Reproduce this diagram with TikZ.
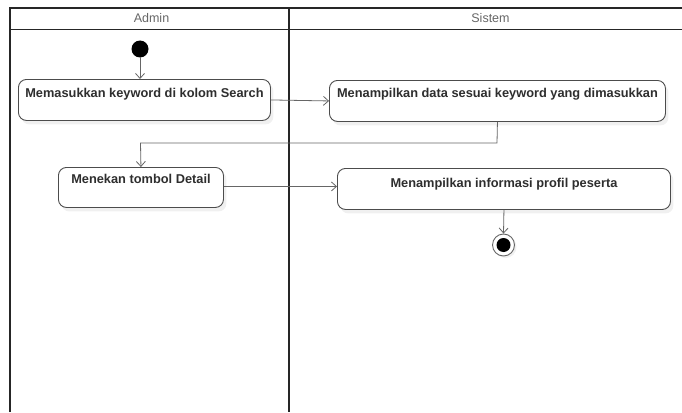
\documentclass[tikz,border=0pt]{standalone}
\usepackage{fontspec}
\setmainfont{Liberation Sans}
\usetikzlibrary{arrows.meta,shadows}
\begin{document}
\begin{tikzpicture}[x=1pt,y=-1pt,
  frame/.style={draw=black!85, line width=1.6pt},
  lanehead/.style={font=\fontsize{12.5}{14}\selectfont, text=black!60},
  act/.style={draw=black!70, line width=0.9pt, rounded corners=8pt, fill=white,
    anchor=north west, inner sep=0pt, align=center,
    font=\bfseries\fontsize{12.8}{14}\selectfont, text=black!82,
    drop shadow={opacity=0.12, shadow xshift=3pt, shadow yshift=-4pt}},
  flow/.style={draw=black!60, line width=0.8pt, -{Straight Barb[length=5pt,width=9pt]}}
]
\useasboundingbox (0,0) rectangle (682,412);

% swimlane frame
\draw[frame] (10,412) -- (10,8) -- (690,8);
\draw[frame] (10,29.5) -- (690,29.5);
\draw[frame] (289,8) -- (289,412);
\node[lanehead] (hadmin) at (151.5,18.5) {Admin};
\node[lanehead] (hsistem) at (490.5,18.5) {Sistem};

% initial node
\fill[black] (140,49) circle (8.5);
\coordinate (start-s) at (140,57.5);

% activities (text sits near the top of each box)
\node[act, minimum width=252pt, text height=18pt, text depth=23pt] (a1) at (18,79)
  {Memasukkan keyword di kolom Search};
\node[act, minimum width=336pt, text height=17.5pt, text depth=23.5pt] (a2) at (329,80)
  {Menampilkan data sesuai keyword yang dimasukkan};
\node[act, minimum width=165pt, text height=16.5pt, text depth=23.5pt] (a3) at (58,167)
  {Menekan tombol Detail};
\node[act, minimum width=333pt, text height=19.5pt, text depth=21.5pt] (a4) at (337,168)
  {Menampilkan informasi profil peserta};

% final node
\node[circle, draw=black!60, line width=0.9pt, fill=white, minimum size=22pt, inner sep=0pt,
  drop shadow={opacity=0.12, shadow xshift=2pt, shadow yshift=-2pt}] (end) at (503.5,245) {};
\fill[black] (end.center) circle (7);

% control flow
\draw[flow] (start-s) -- (a1.north -| start-s);
\draw[flow] (a1.east) -- (a2.west);
\draw[flow] (a2.south) -- (497,143) -- (140.5,143) -- (a3.north);
\draw[flow] (a3.east) ++(0,-1) coordinate (a3o) -- (a3o -| a4.west);
\draw[flow] (a4.south) -- (end.north);
\end{tikzpicture}
\end{document}
